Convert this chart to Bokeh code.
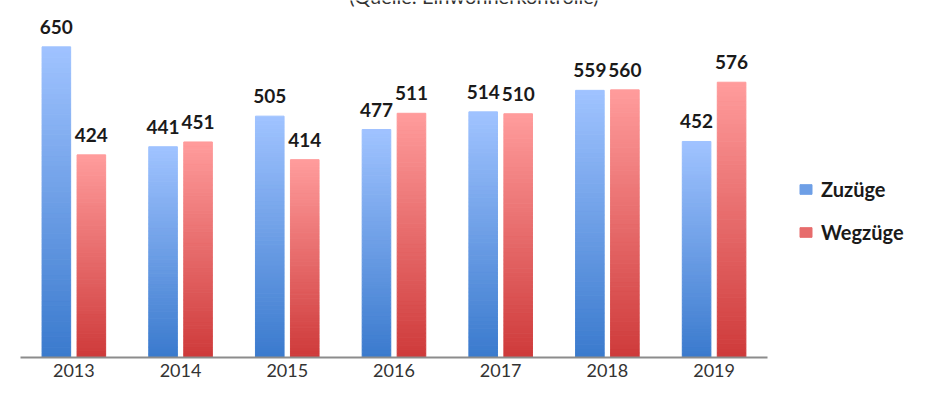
from bokeh.plotting import figure
from bokeh.models import ColumnDataSource, Range1d, Legend, LegendItem, FixedTicker
from bokeh.transform import dodge
from bokeh.core.properties import value
from bokeh.embed import file_html
from bokeh.resources import INLINE

# ---- data ----
years = ["2013", "2014", "2015", "2016", "2017", "2018", "2019"]
zuzuege = [650, 441, 505, 477, 514, 559, 452]
wegzuege = [424, 451, 414, 511, 510, 560, 576]
series_names = ["Zuzüge", "Wegzüge"]
subtitle = "(Quelle: Einwohnerkontrolle)"

# ---- styling ----
BLUE_TOP = (160, 195, 255)
BLUE_BOT = (58, 122, 205)
RED_TOP = (255, 156, 156)
RED_BOT = (206, 58, 58)
N_SEG = 60
FONT = "Lato"

idx = list(range(len(years)))


def lerp(c1, c2, t):
    return "#%02x%02x%02x" % tuple(int(round(a + (b - a) * t)) for a, b in zip(c1, c2))


def gradient_source(vals):
    xs, bots, tops, ts = [], [], [], []
    for i, v in zip(idx, vals):
        for k in range(N_SEG):
            xs.append(i)
            bots.append(v * k / N_SEG)
            tops.append(v * (k + 1) / N_SEG)
            ts.append((k + 0.5) / N_SEG)
    return xs, bots, tops, ts


Y_END = 747
p = figure(
    width=935, height=384,
    x_range=Range1d(-0.5, 8.075),
    y_range=Range1d(0, Y_END),
    output_backend="svg", toolbar_location=None,
    min_border_left=20, min_border_right=0, min_border_top=0, min_border_bottom=27,
)
p.outline_line_color = None
p.background_fill_color = "white"
p.border_fill_color = "white"
p.grid.visible = False
p.yaxis.visible = False

OFF = 0.164
W = 0.268

items = []
for vals, off, ctop, cbot, name in [
    (zuzuege, -OFF, BLUE_TOP, BLUE_BOT, series_names[0]),
    (wegzuege, OFF, RED_TOP, RED_BOT, series_names[1]),
]:
    xs, bots, tops, ts = gradient_source(vals)
    cols = [lerp(cbot, ctop, t) for t in ts]
    src = ColumnDataSource(dict(x=xs, bottom=bots, top=tops, color=cols))
    r = p.vbar(x=dodge("x", off), bottom="bottom", top="top", width=W,
               source=src, fill_color="color", line_color="color", line_width=1)
    lsrc = ColumnDataSource(dict(x=idx, v=vals, t=[str(v) for v in vals]))
    p.text(x=dodge("x", off), y="v", text="t", source=lsrc,
           text_font=value(FONT), text_font_style="bold", text_font_size="19px",
           text_color="#1a1a1a", text_align="center", text_baseline="alphabetic",
           y_offset=-20)
    items.append(LegendItem(label=name, renderers=[r], index=N_SEG // 2))

# partially visible subtitle clipped at the top edge
tsrc = ColumnDataSource(dict(x=[idx[3]], y=[Y_END], t=[subtitle]))
p.text(x="x", y="y", text="t", source=tsrc, text_font=value(FONT), text_font_size="20px",
       text_color="#333333", text_align="center", text_baseline="bottom",
       x_offset=80, y_offset=7)

legend = Legend(
    items=items,
    location=(778, 113), orientation="vertical",
    padding=0, margin=0, spacing=19, glyph_width=15, glyph_height=12,
    label_height=20, label_standoff=8,
    label_text_font=FONT, label_text_font_style="bold", label_text_font_size="20px",
    label_text_color="#1a1a1a",
    border_line_color=None, background_fill_alpha=0,
)
p.add_layout(legend, "center")

ax = p.xaxis[0]
ax.ticker = FixedTicker(ticks=idx)
ax.major_label_overrides = {i: y for i, y in zip(idx, years)}
ax.bounds = (-0.5, len(years) - 0.5)
ax.axis_line_color = "#8c8c8c"
ax.axis_line_width = 2
ax.major_tick_line_color = None
ax.minor_tick_line_color = None
ax.major_tick_out = 0
ax.major_label_standoff = 6
ax.major_label_text_font = FONT
ax.major_label_text_font_size = "18px"
ax.major_label_text_color = "#333333"

open("out.html", "w").write(file_html(p, INLINE))
